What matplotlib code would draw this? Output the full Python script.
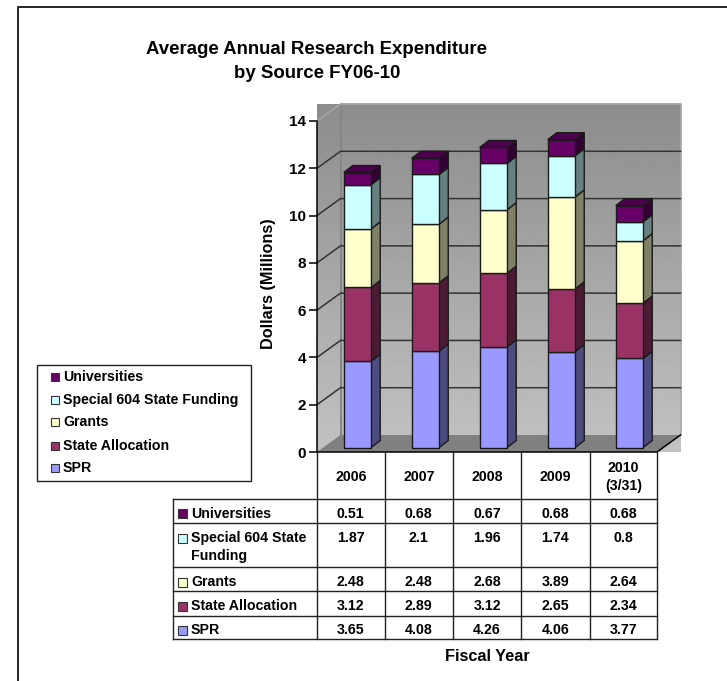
import numpy as np
import matplotlib
matplotlib.use('Agg')
import matplotlib.pyplot as plt
from matplotlib.patches import Polygon, Rectangle

plt.rcParams['font.family'] = ['Liberation Sans', 'DejaVu Sans']
plt.rcParams['font.weight'] = 'bold'

years = ['2006', '2007', '2008', '2009', '2010\n(3/31)']
series = ['SPR', 'State Allocation', 'Grants', 'Special 604 State Funding', 'Universities']
table_names = ['Universities', 'Special 604 State\nFunding', 'Grants', 'State Allocation', 'SPR']
spr = [3.65, 4.08, 4.26, 4.06, 3.77]
state = [3.12, 2.89, 3.12, 2.65, 2.34]
grants = [2.48, 2.48, 2.68, 3.89, 2.64]
special = [1.87, 2.1, 1.96, 1.74, 0.8]
univ = ['0.51', '0.68', '0.67', '0.68', '0.68']
univ_vals = [float(v) for v in univ]
yticks = [0, 2, 4, 6, 8, 10, 12, 14]

front = ['#9999ff', '#993366', '#ffffcc', '#ccffff', '#660066']
side = ['#4c4c80', '#4d1a33', '#808066', '#668080', '#330033']
W, H = 727, 681
FS = 10.2

fig = plt.figure(figsize=(W / 100, H / 100), dpi=100)

# overlay in pixel coords for frame, legend and table
pix = fig.add_axes([0, 0, 1, 1], zorder=3)
pix.set_xlim(0, W)
pix.set_ylim(H, 0)
pix.axis('off')
pix.patch.set_alpha(0)

# chart axes: x is category slots, y is dollars
x0, x1, y0, y14 = 317, 657, 452, 121
ax = fig.add_axes([x0 / W, 1 - y0 / H, (x1 - x0) / W, (y0 - y14) / H], zorder=2)
ax.set_xlim(0, 5)
ax.set_ylim(0, 14)
ax.patch.set_alpha(0)
px = 5 / (x1 - x0)
py = 14 / (y0 - y14)
dx, dy = 23.5 * px, 17 * py


def grad(poly):
    im = ax.imshow(np.linspace(0.55, 0.76, 256).reshape(-1, 1), extent=(0, 5 + dx, 0, 14 + dy),
                   origin='upper', cmap='gray', vmin=0, vmax=1, aspect='auto', clip_on=False, zorder=1)
    p = Polygon(poly, transform=ax.transData, fc='none', ec='none')
    ax.add_patch(p)
    im.set_clip_path(p)


grad([(dx, dy), (5 + dx, dy), (5 + dx, 14 + dy), (dx, 14 + dy)])
grad([(0, 0), (dx, dy), (dx, 14 + dy), (0, 14)])
ax.set_xlim(0, 5)
ax.set_ylim(0, 14)
ax.add_patch(Polygon([(0, 0), (5, 0), (5 + dx, dy), (dx, dy)], fc='#808080', ec='none', clip_on=False, zorder=2))
ax.plot([dx, dx, 5 + dx, 5 + dx], [dy, 14 + dy, 14 + dy, dy], color='#a6a6a6', lw=1.2, clip_on=False, zorder=2)
ax.plot([dx, dx], [dy, 14 + dy], color='#808080', lw=1.2, clip_on=False, zorder=2)
for t in yticks[1:]:
    ax.plot([0, dx, 5 + dx], [t, t + dy, t + dy], color='#333333' if t < 14 else '#a6a6a6', lw=1.1,
            clip_on=False, zorder=2)
ax.plot([0, 5, 5 + dx], [0, 0, dy], color='black', lw=1.1, clip_on=False, zorder=3)

# stacked bars with a bit of depth
stack = [spr, state, grants, special, univ_vals]
bar_w = 27.5 * px
bar_dx, bar_dy = 9 * px, 7 * py
lift_x, lift_y = 6.5 * px, 4.5 * py
for i in range(5):
    left = i + 0.5 - bar_w / 2 + lift_x
    right = left + bar_w
    base = lift_y
    for j, vals in enumerate(stack):
        top = base + vals[i]
        ax.add_patch(Polygon([(right, base), (right + bar_dx, base + bar_dy), (right + bar_dx, top + bar_dy), (right, top)],
                             fc=side[j], ec='#1a1a1a', lw=1, clip_on=False, zorder=4))
        ax.add_patch(Rectangle((left, base), bar_w, vals[i], fc=front[j], ec='#1a1a1a', lw=1, clip_on=False, zorder=5))
        base = top
    ax.add_patch(Polygon([(left, base), (right, base), (right + bar_dx, base + bar_dy), (left + bar_dx, base + bar_dy)],
                         fc='#4d004d', ec='#1a1a1a', lw=1, clip_on=False, zorder=5))

for s in ['top', 'right', 'bottom']:
    ax.spines[s].set_visible(False)
ax.spines['left'].set_linewidth(1.1)
ax.set_xticks([])
ax.set_yticks(yticks)
ax.tick_params(axis='y', length=6, width=1.1, pad=2, labelsize=11)

# title, frame (only top and left edges show in the crop)
pix.plot([17.5, 17.5, W], [H, 6.5, 6.5], color='#222222', lw=1.4)
pix.text(317, 50, 'Average Annual Research Expenditure', ha='center', va='center', fontsize=13.4)
pix.text(317, 73, 'by Source FY06-10', ha='center', va='center', fontsize=13.4)
pix.text(269, 284, 'Dollars (Millions)', rotation=90, ha='center', va='center', fontsize=11.7)

# legend box
pix.add_patch(Rectangle((36.5, 364.5), 214, 116, fc='white', ec='#222222', lw=1))
for name, c, yy in zip(series[::-1], front[::-1], [377, 400, 422, 446, 468]):
    pix.add_patch(Rectangle((50.5, yy - 4.5), 8.5, 8.5, fc=c, ec='#333333', lw=0.8))
    pix.text(63, yy, name, ha='left', va='center', fontsize=FS)

# data table
cols = [317, 384.5, 453, 521, 590, 657]
rows = [452, 499, 523.3, 567.3, 591.3, 615.5, 638.7]
mids = [513.5, 538, 582, 606, 630]
for c in cols:
    pix.plot([c, c], [452, 638.7], color='#222222', lw=1)
for r in rows[1:]:
    pix.plot([172.5, 657], [r, r], color='#222222', lw=1)
pix.plot([172.5, 172.5], [499, 638.7], color='#222222', lw=1)
for k, y in enumerate(years):
    pix.text((cols[k] + cols[k + 1]) / 2, 477, y, ha='center', va='center', fontsize=FS, linespacing=1.35)

table_vals = [univ, [str(v) for v in special], [str(v) for v in grants],
              [str(v) for v in state], [str(v) for v in spr]]
for r, name in enumerate(table_names):
    midy = mids[r]
    c = front[::-1][r]
    pix.text(191, midy - 7, name, ha='left', va='top', fontsize=FS, linespacing=1.35)
    pix.add_patch(Rectangle((177.5, midy - 4.5), 9, 9, fc=c, ec='#333333', lw=0.8))
    for k in range(5):
        pix.text((cols[k] + cols[k + 1]) / 2, midy, table_vals[r][k], ha='center', va='center', fontsize=FS)

pix.text(487, 656.5, 'Fiscal Year', ha='center', va='center', fontsize=11.7)

fig.savefig('out.png', dpi=100, facecolor='white')
